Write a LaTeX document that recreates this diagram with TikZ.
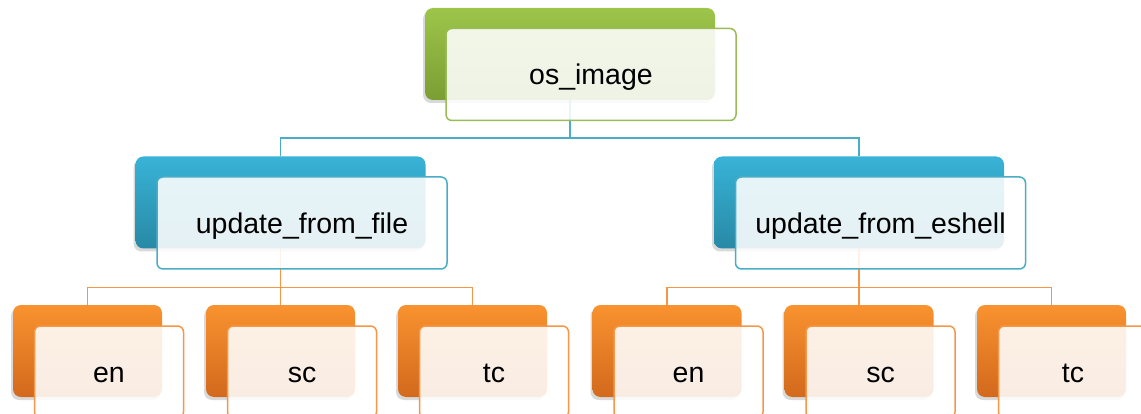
\documentclass[tikz,border=0pt]{standalone}
\usepackage{fontspec}
\setmainfont{Liberation Sans}
\usetikzlibrary{shadows,backgrounds}
\definecolor{greentop}{HTML}{9DC54A}
\definecolor{greenbot}{HTML}{7B9E33}
\definecolor{greenline}{HTML}{9BBB59}
\definecolor{bluetop}{HTML}{38B3D7}
\definecolor{bluebot}{HTML}{2889A5}
\definecolor{blueline}{HTML}{4BACC6}
\definecolor{orangetop}{HTML}{F9922F}
\definecolor{orangebot}{HTML}{D2691D}
\definecolor{orangeline}{HTML}{F79646}

\begin{document}
\begin{tikzpicture}[x=1pt, y=-1pt, every node/.style={inner sep=0pt, outer sep=0pt, align=center, font=\fontsize{28.5}{34}\selectfont},
	backbox/.style={rounded corners=8pt, drop shadow={shadow xshift=-2pt, shadow yshift=-3pt, opacity=0.3}},
	frontbox/.style={rounded corners=6pt, fill=white, fill opacity=0.88, text opacity=1, line width=1.5pt, text height=26pt, text depth=5pt},
	bigbox/.style={minimum width=290pt, minimum height=92pt},
	smallbox/.style={minimum width=149pt, minimum height=92pt}]
				\clip (0,0) rectangle (1141,414);
				% level 1
				\node (rootback) at (570,54) [backbox, bigbox, top color=greentop, bottom color=greenbot] {};
				\node (root) at (591,74.5) [frontbox, bigbox, draw=greenline] {os\_image};
				% level 2
				\node (fileback) at (280.5,202.5) [backbox, bigbox, top color=bluetop, bottom color=bluebot] {};
				\node (file) at (302,223) [frontbox, bigbox, draw=blueline] {update\_from\_file};
				\node (eshellback) at (859,202.5) [backbox, bigbox, top color=bluetop, bottom color=bluebot] {};
				\node (eshell) at (880.5,223) [frontbox, bigbox, draw=blueline] {update\_from\_eshell};
				% level 3
				\node (fenback) at (87.5,351) [backbox, smallbox, top color=orangetop, bottom color=orangebot] {};
				\node (fen) at (109,372) [frontbox, smallbox, draw=orangeline] {en};
				\node (fscback) at (280.5,351) [backbox, smallbox, top color=orangetop, bottom color=orangebot] {};
				\node (fsc) at (302,372) [frontbox, smallbox, draw=orangeline] {sc};
				\node (ftcback) at (472.5,351) [backbox, smallbox, top color=orangetop, bottom color=orangebot] {};
				\node (ftc) at (494,372) [frontbox, smallbox, draw=orangeline] {tc};
				\node (eenback) at (667,351) [backbox, smallbox, top color=orangetop, bottom color=orangebot] {};
				\node (een) at (688.5,372) [frontbox, smallbox, draw=orangeline] {en};
				\node (escback) at (859,351) [backbox, smallbox, top color=orangetop, bottom color=orangebot] {};
				\node (esc) at (880.5,372) [frontbox, smallbox, draw=orangeline] {sc};
				\node (etcback) at (1051.5,351) [backbox, smallbox, top color=orangetop, bottom color=orangebot] {};
				\node (etc) at (1073,372) [frontbox, smallbox, draw=orangeline] {tc};

				\begin{scope}[on background layer]
				\draw[blueline, line width=1.6pt] (rootback.south) -- ++(0,38) -| (fileback.north);
				\draw[blueline, line width=1.6pt] (rootback.south) -- ++(0,38) -| (eshellback.north);
				\draw[orangeline, line width=1.6pt] (fileback.south) -- ++(0,39) -| (fenback.north);
				\draw[orangeline, line width=1.6pt] (fileback.south) -- ++(0,39) -| (fscback.north);
				\draw[orangeline, line width=1.6pt] (fileback.south) -- ++(0,39) -| (ftcback.north);
				\draw[orangeline, line width=1.6pt] (eshellback.south) -- ++(0,39) -| (eenback.north);
				\draw[orangeline, line width=1.6pt] (eshellback.south) -- ++(0,39) -| (escback.north);
				\draw[orangeline, line width=1.6pt] (eshellback.south) -- ++(0,39) -| (etcback.north);
				\end{scope}
			\end{tikzpicture}
\end{document}
